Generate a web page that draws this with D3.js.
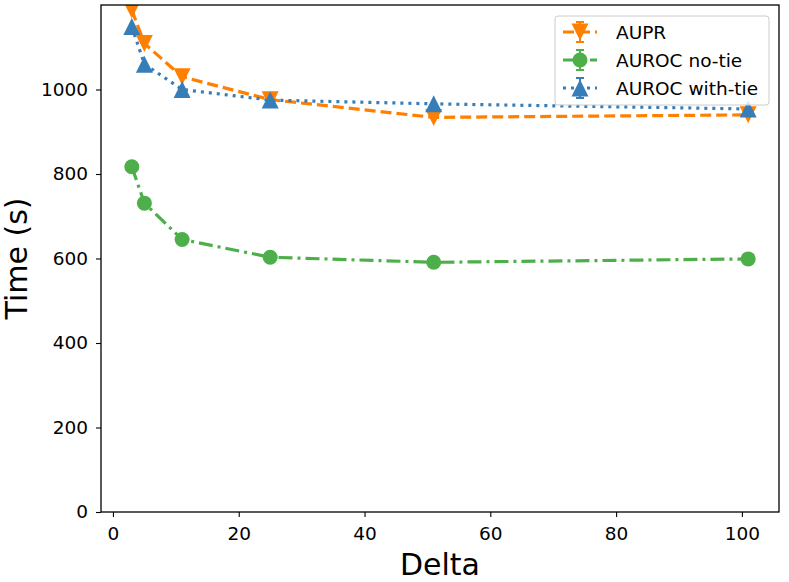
<!DOCTYPE html>
<html><head><meta charset="utf-8">
<script src="https://cdn.jsdelivr.net/npm/d3@7"></script>
<style>body{margin:0;background:#fff}svg{font-family:"DejaVu Sans",sans-serif}</style>
</head><body><svg id="c" width="789" height="582"></svg>
<script>
const deltas = [3, 5, 11, 25, 51, 101];
const auprTime = [1188, 1109, 1030, 976, 934, 940];
const aurocNoTieTime = [817, 731, 645, 603, 591, 599];
const aurocWithTieTime = [1149, 1060, 1000, 975, 966, 954];
const seriesNames = ["AUPR", "AUROC no-tie", "AUROC with-tie"];
const xTicks = [0, 20, 40, 60, 80, 100];
const yTicks = [0, 200, 400, 600, 800, 1000];

const svg = d3.select("#c");
const L = 101, R = 779, T = 5, B = 512;
const x = d3.scaleLinear().domain([-1.9, 105.9]).range([L, R]);
const y = d3.scaleLinear().domain([0, 1200]).range([B, T]);

const series = [
  {name: seriesNames[0], vals: auprTime, color: "#ff7f00", dash: "11,5", marker: "down"},
  {name: seriesNames[1], vals: aurocNoTieTime, color: "#4daf4a", dash: "14,5,3,5", marker: "circle"},
  {name: seriesNames[2], vals: aurocWithTieTime, color: "#377eb8", dash: "3,5", marker: "up"}
];

svg.append("defs").append("clipPath").attr("id","clip").append("rect")
  .attr("x",L).attr("y",T).attr("width",R-L).attr("height",B-T);

function markerPath(type, s) {
  if (type === "up") return `M0,${-s}L${s},${s}L${-s},${s}Z`;
  if (type === "down") return `M0,${s}L${s},${-s}L${-s},${-s}Z`;
  return null;
}
function drawMarker(g, type, cx, cy, color) {
  if (type === "circle") g.append("circle").attr("cx",cx).attr("cy",cy).attr("r",7.5).attr("fill",color);
  else g.append("path").attr("d", markerPath(type, 8.5)).attr("transform",`translate(${cx},${cy})`).attr("fill",color);
}

const plot = svg.append("g").attr("clip-path","url(#clip)");
const line = d3.line().x((d,i)=>x(deltas[i])).y(d=>y(d));
series.forEach(s => {
  plot.append("path").attr("d", line(s.vals)).attr("fill","none")
    .attr("stroke", s.color).attr("stroke-width", 3.2).attr("stroke-dasharray", s.dash);
});
series.forEach(s => {
  s.vals.forEach((v,i) => drawMarker(plot, s.marker, x(deltas[i]), y(v), s.color));
});

// axes
const xa = svg.append("g").attr("transform",`translate(0,${B})`)
  .call(d3.axisBottom(x).tickValues(xTicks).tickFormat(d3.format("d")).tickSize(5).tickPadding(10));
const ya = svg.append("g").attr("transform",`translate(${L},0)`)
  .call(d3.axisLeft(y).tickValues(yTicks).tickFormat(d3.format("d")).tickSize(5).tickPadding(8));
[xa, ya].forEach(a => {
  a.select(".domain").remove();
  a.selectAll("line").attr("stroke","#000").attr("stroke-width",1.1);
  a.selectAll("text").attr("font-size",18.5).attr("fill","#000").attr("font-family","DejaVu Sans");
});
svg.append("rect").attr("x",L).attr("y",T).attr("width",R-L).attr("height",B-T)
  .attr("fill","none").attr("stroke","#000").attr("stroke-width",1.3);

svg.append("text").attr("x",(L+R)/2).attr("y",575).attr("text-anchor","middle")
  .attr("font-size",30).text("Delta");
svg.append("text").attr("transform",`translate(${27},${(T+B)/2}) rotate(-90)`)
  .attr("text-anchor","middle").attr("font-size",30).text("Time (s)");

// legend
const lg = svg.append("g");
lg.append("rect").attr("x",555).attr("y",16).attr("width",214).attr("height",89).attr("rx",3)
  .attr("fill","#fff").attr("fill-opacity",0.8).attr("stroke","#ccc").attr("stroke-width",1);
series.forEach((s,i) => {
  const cy = 32 + i*28;
  lg.append("line").attr("x1",563).attr("x2",597).attr("y1",cy).attr("y2",cy)
    .attr("stroke",s.color).attr("stroke-width",3.2).attr("stroke-dasharray",s.dash);
  lg.append("line").attr("x1",580).attr("x2",580).attr("y1",cy-10).attr("y2",cy+10).attr("stroke",s.color).attr("stroke-width",2);
  [cy-10, cy+10].forEach(yy => lg.append("line").attr("x1",576).attr("x2",584).attr("y1",yy).attr("y2",yy).attr("stroke",s.color).attr("stroke-width",2));
  drawMarker(lg, s.marker, 580, cy, s.color);
  lg.append("text").attr("x",616).attr("y",cy+6.5).attr("font-size",18.5).text(s.name);
});
</script></body></html>
